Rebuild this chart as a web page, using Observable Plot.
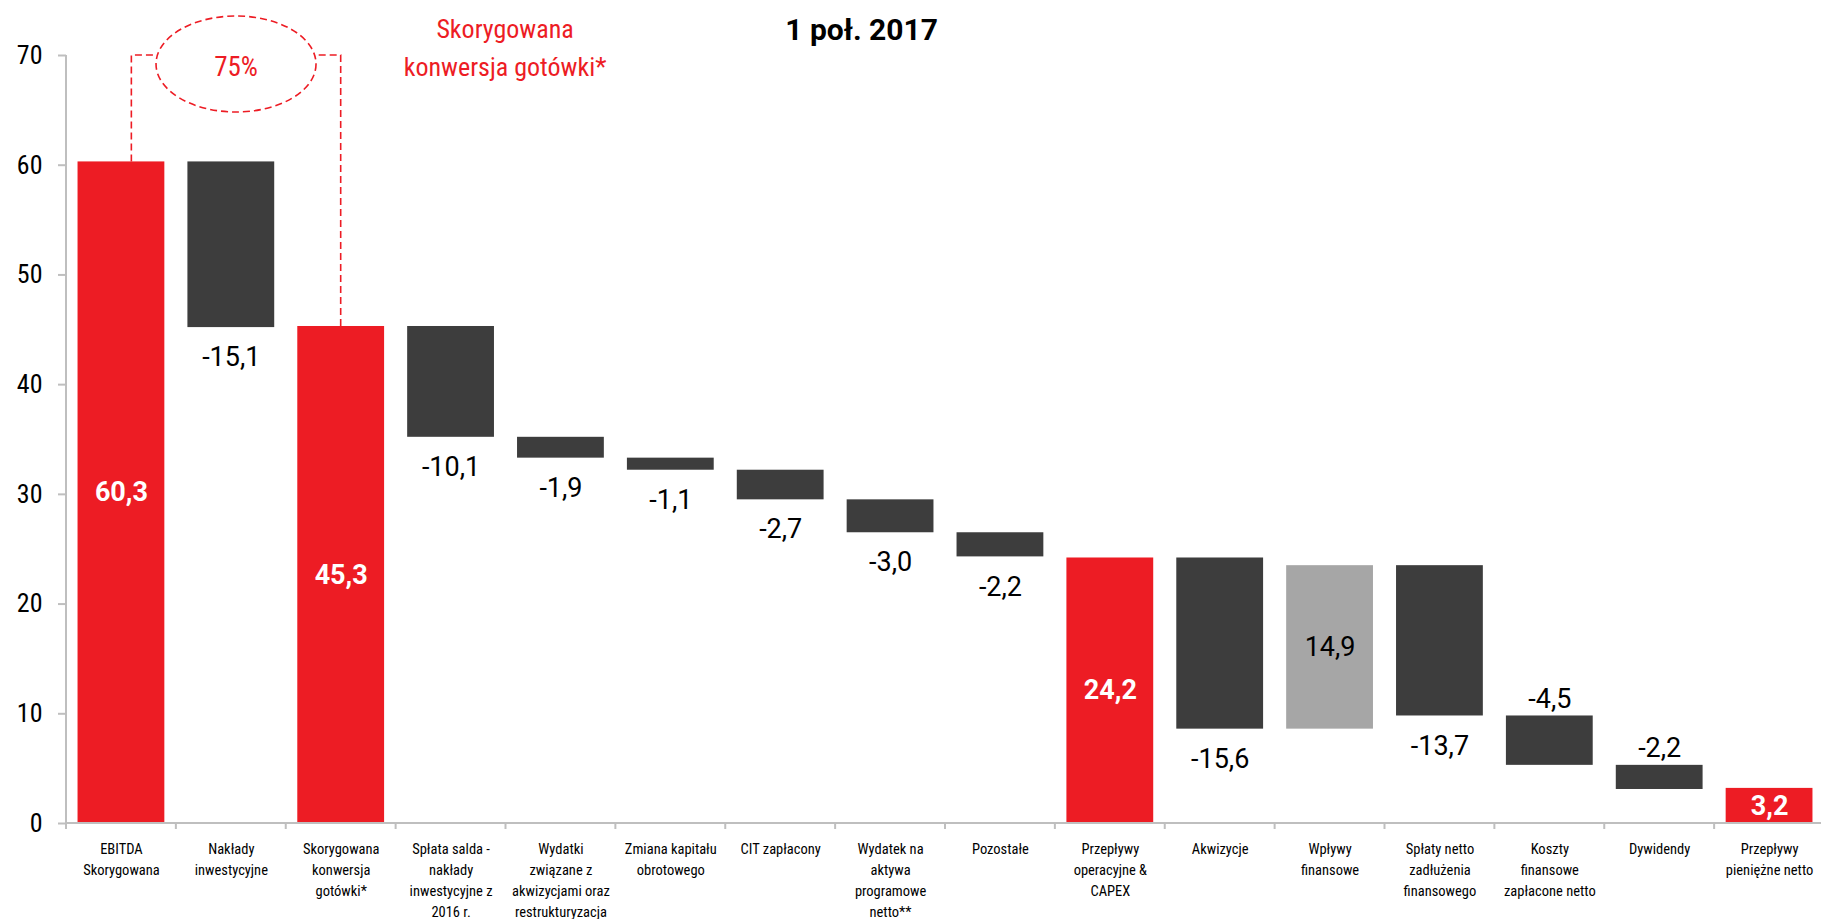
<!DOCTYPE html>
<html>
<head>
<meta charset="utf-8">
<script src="https://cdn.jsdelivr.net/npm/d3@7"></script>
<script src="https://cdn.jsdelivr.net/npm/@observablehq/plot@0.6"></script>
<style>
  html, body { margin: 0; padding: 0; background: #fff; }
  #chart svg { display: block; }
</style>
</head>
<body>
<div id="chart"></div>
<script>
// ---- data ----
const categories = [
  "EBITDA\nSkorygowana",
  "Nakłady\ninwestycyjne",
  "Skorygowana\nkonwersja\ngotówki*",
  "Spłata salda -\nnakłady\ninwestycyjne z\n2016 r.",
  "Wydatki\nzwiązane z\nakwizycjami oraz\nrestrukturyzacja",
  "Zmiana kapitału\nobrotowego",
  "CIT zapłacony",
  "Wydatek na\naktywa\nprogramowe\nnetto**",
  "Pozostałe",
  "Przepływy\noperacyjne &\nCAPEX",
  "Akwizycje",
  "Wpływy\nfinansowe",
  "Spłaty netto\nzadłużenia\nfinansowego",
  "Koszty\nfinansowe\nzapłacone netto",
  "Dywidendy",
  "Przepływy\npieniężne netto"
];
const values = [60.3, -15.1, 45.3, -10.1, -1.9, -1.1, -2.7, -3.0, -2.2, 24.2, -15.6, 14.9, -13.7, -4.5, -2.2, 3.2];
const kinds  = ["total","delta","total","delta","delta","delta","delta","delta","delta","total","delta","delta","delta","delta","delta","total"];
const yTicks = [0, 10, 20, 30, 40, 50, 60, 70];
const title = "1 poł. 2017";
const noteText = "Skorygowana\nkonwersja gotówki*";
const ratioText = "75%";

// ---- derived waterfall table ----
let run = 0;
const rows = categories.map((c, i) => {
  const v = values[i];
  let start, end;
  if (kinds[i] === "total") { start = 0; end = v; run = v; }
  else { start = run; end = run + v; run = end; }
  const lo = Math.min(start, end), hi = Math.max(start, end);
  const type = kinds[i] === "total" ? "total" : (v >= 0 ? "up" : "down");
  return {cat: c, v, start, end, lo, hi, type, label: v.toFixed(1).replace(".", ",")};
});

const RED = "#ED1C24", DARK = "#3D3D3D", LIGHT = "#A6A6A6", AXIS = "#BFBFBF";
const colorOf = {total: RED, down: DARK, up: LIGHT};
const condensed = "'Roboto Condensed', 'Liberation Sans Narrow', 'Arial Narrow', Roboto, sans-serif";

// custom decorations: axis lines, band boundary ticks, dashed connector and ellipse
function decorations(index, scales, vals, dims) {
  const {x, y} = scales;
  const g = d3.create("svg:g");
  const bw = x.bandwidth();
  const step = x(categories[1]) - x(categories[0]);
  const half = (step - bw) / 2;
  const left = dims.marginLeft, right = dims.width - dims.marginRight;
  const y0 = y(0), yT = y(70);
  g.append("line").attr("x1", left).attr("x2", left).attr("y1", yT).attr("y2", y0)
    .attr("stroke", AXIS).attr("stroke-width", 2);
  g.append("line").attr("x1", left).attr("x2", right).attr("y1", y0).attr("y2", y0)
    .attr("stroke", AXIS).attr("stroke-width", 2);
  categories.forEach((c) => {
    const bx = x(c) - half;
    g.append("line").attr("x1", bx).attr("x2", bx).attr("y1", y0).attr("y2", y0 + 6)
      .attr("stroke", AXIS).attr("stroke-width", 2);
  });
  // connector between EBITDA and Skorygowana konwersja gotówki
  const xa = x(categories[0]) + bw * 0.62;
  const xb = x(categories[2]) + bw * 0.5;
  const cx = (xa + xb) / 2, cy = yT + 9, rx = 80, ry = 48;
  const ex = rx * Math.sqrt(1 - Math.pow((yT - cy) / ry, 2));
  const dash = {"stroke": RED, "stroke-width": 1.6, "stroke-dasharray": "7,4", "fill": "none"};
  const path = d3.path();
  path.moveTo(xa, y(rows[0].end)); path.lineTo(xa, yT); path.lineTo(cx - ex, yT);
  path.moveTo(xb, y(rows[2].end)); path.lineTo(xb, yT); path.lineTo(cx + ex, yT);
  const p = g.append("path").attr("d", path.toString());
  Object.entries(dash).forEach(([k, v]) => p.attr(k, v));
  const e = g.append("ellipse").attr("cx", cx).attr("cy", cy).attr("rx", rx).attr("ry", ry);
  Object.entries(dash).forEach(([k, v]) => e.attr(k, v));
  g.append("text").attr("x", cx).attr("y", cy + 3).attr("text-anchor", "middle")
    .attr("dominant-baseline", "central").attr("fill", RED)
    .attr("font-size", 27).attr("font-family", condensed).text(ratioText);
  return g.node();
}

const totals = rows.filter(d => d.type === "total");
const ups = rows.filter(d => d.type === "up");
const below = rows.filter(d => d.type === "down" && d.lo >= 6);
const above = rows.filter(d => d.type === "down" && d.lo < 6);

const chart = Plot.plot({
  width: 1821,
  height: 919,
  marginLeft: 66,
  marginRight: -3,
  marginTop: 55,
  marginBottom: 96,
  x: {type: "band", domain: categories, paddingInner: 0.21, paddingOuter: 0.105, round: false, axis: null},
  y: {domain: [0, 70], axis: null},
  style: {fontFamily: "Roboto, sans-serif", background: "#fff", overflow: "visible"},
  marks: [
    Plot.barY(rows, {x: "cat", y1: "start", y2: "end", fill: d => colorOf[d.type]}),
    decorations,
    Plot.axisY({ticks: yTicks, tickSize: 8, tickPadding: 16, fontSize: 26, stroke: AXIS, strokeWidth: 2,
      fill: "#000", fontFamily: condensed, label: null, tickFormat: d => String(d)}),
    Plot.text(categories, {x: d => d, frameAnchor: "bottom", dy: 16, lineAnchor: "top",
      lineHeight: 1.44, fontSize: 14.5, fill: "#000", fontFamily: condensed}),
    Plot.text(totals, {x: "cat", y: d => (d.start + d.end) / 2, text: "label",
      fill: "#fff", fontWeight: "bold", fontSize: 27}),
    Plot.text(ups, {x: "cat", y: d => (d.start + d.end) / 2, text: "label", fill: "#000", fontSize: 27}),
    Plot.text(below, {x: "cat", y: "lo", dy: 30, text: "label", fill: "#000", fontSize: 27}),
    Plot.text(above, {x: "cat", y: "hi", dy: -17, text: "label", fill: "#000", fontSize: 27}),
    Plot.text([title], {x: () => categories[7], y: () => 70, dx: -29, dy: -25, text: d => d,
      fontSize: 30, fontWeight: "bold", fill: "#000"}),
    Plot.text([noteText], {x: () => categories[3], y: () => 70, dx: 54, dy: -11, text: d => d,
      fontSize: 26, lineHeight: 1.46, fill: RED, fontFamily: condensed})
  ]
});
document.getElementById("chart").appendChild(chart);
</script>
</body>
</html>
